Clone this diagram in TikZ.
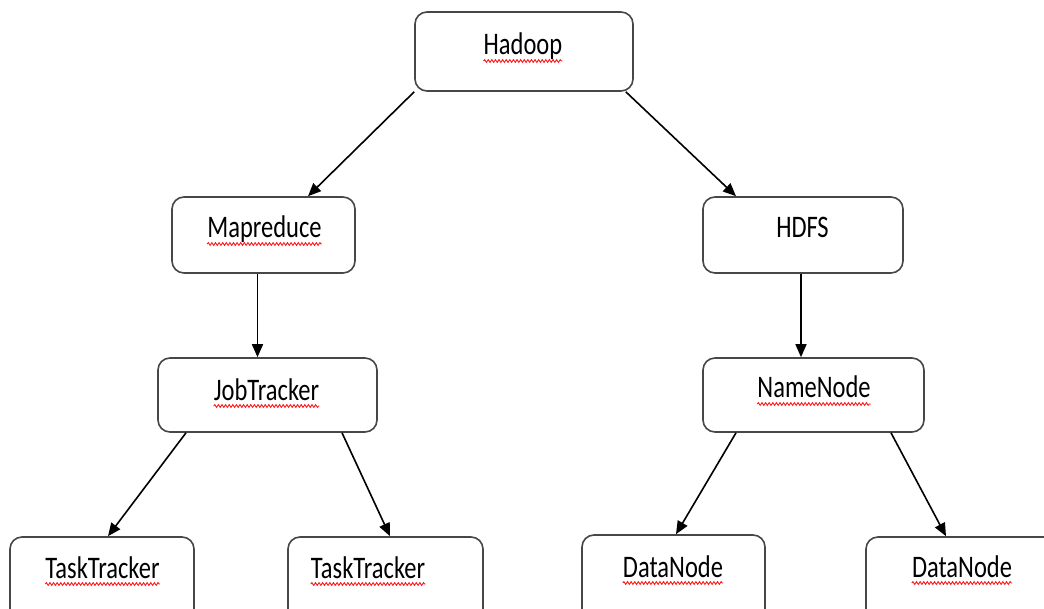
\documentclass[tikz,border=0pt]{standalone}
\usepackage{fontspec}
\setmainfont{Carlito}
\usetikzlibrary{arrows.meta,decorations.pathmorphing,calc}
\definecolor{boxgray}{HTML}{474747}
\begin{document}
\begin{tikzpicture}[x=1pt,y=-1pt,
  box/.style={draw=boxgray, line width=1.6pt, rounded corners=12pt, fill=white, inner sep=0pt},
  lbl/.style={anchor=base, inner sep=0pt, font=\fontsize{24.5}{28}\selectfont},
  conn/.style={draw=black, line width=1.6pt, -{Triangle[length=13pt,width=11pt]}},
  squig/.style={draw=red!90!white, line width=0.9pt, decorate, decoration={snake, segment length=3.6pt, amplitude=1.4pt}}]
\useasboundingbox (0,0) rectangle (1044,609);
\clip (0,0) rectangle (1044,609);
% boxes
\node[box, minimum width=218pt, minimum height=79pt] (hadoop) at (524,51.5) {};
\node[box, minimum width=183pt, minimum height=76pt] (mapreduce) at (263.5,235) {};
\node[box, minimum width=200pt, minimum height=76pt] (hdfs) at (803,235) {};
\node[box, minimum width=219pt, minimum height=74pt] (jobtracker) at (267.5,395) {};
\node[box, minimum width=221pt, minimum height=74pt] (namenode) at (813.5,395) {};
\node[box, minimum width=184pt, minimum height=88pt] (tt1) at (102,581) {};
\node[box, minimum width=195pt, minimum height=88pt] (tt2) at (385.5,581) {};
\node[box, minimum width=183pt, minimum height=90pt] (dn1) at (673.5,580) {};
\node[box, minimum width=194pt, minimum height=88pt] (dn2) at (963,581) {};
% labels
\newcommand{\stretchtxt}[1]{\scalebox{1}[1.28]{#1}}
\node[lbl] (hadoopT) at (523,55) {\stretchtxt{Hadoop}};
\node[lbl] (mapreduceT) at (264.5,238) {\stretchtxt{Mapreduce}};
\node[lbl] (hdfsT) at (802.5,238) {\stretchtxt{HDFS}};
\node[lbl] (jobtrackerT) at (266.5,400) {\stretchtxt{JobTracker}};
\node[lbl] (namenodeT) at (814,398) {\stretchtxt{NameNode}};
\node[lbl] (tt1T) at (102.5,578) {\stretchtxt{TaskTracker}};
\node[lbl] (tt2T) at (368,578) {\stretchtxt{TaskTracker}};
\node[lbl] (dn1T) at (673,577) {\stretchtxt{DataNode}};
\node[lbl] (dn2T) at (962,577) {\stretchtxt{DataNode}};
% spell-check squiggles
\foreach \t in {hadoopT,mapreduceT,jobtrackerT,namenodeT,tt1T,tt2T,dn1T,dn2T}{
  \draw[squig] ($(\t.base west)+(0,6)$) -- ($(\t.base east)+(0,6)$);
}
% connectors
\draw[conn] (hadoop.south west) -- ([xshift=44.5pt]mapreduce.north);
\draw[conn] ([xshift=-8pt]hadoop.south east) -- ([xshift=-67pt]hdfs.north);
\draw[conn] ([xshift=-6pt]mapreduce.south) -- ([xshift=-10pt]jobtracker.north);
\draw[conn] ([xshift=-2pt]hdfs.south) -- ([xshift=-12.5pt]namenode.north);
\draw[conn] ([xshift=-81.5pt]jobtracker.south) -- ([xshift=6pt]tt1.north);
\draw[conn] ([xshift=74.5pt]jobtracker.south) -- ([xshift=4.5pt]tt2.north);
\draw[conn] ([xshift=-77.5pt]namenode.south) -- ([xshift=2.5pt]dn1.north);
\draw[conn] ([xshift=77.5pt]namenode.south) -- ([xshift=-17pt]dn2.north);
\end{tikzpicture}
\end{document}
